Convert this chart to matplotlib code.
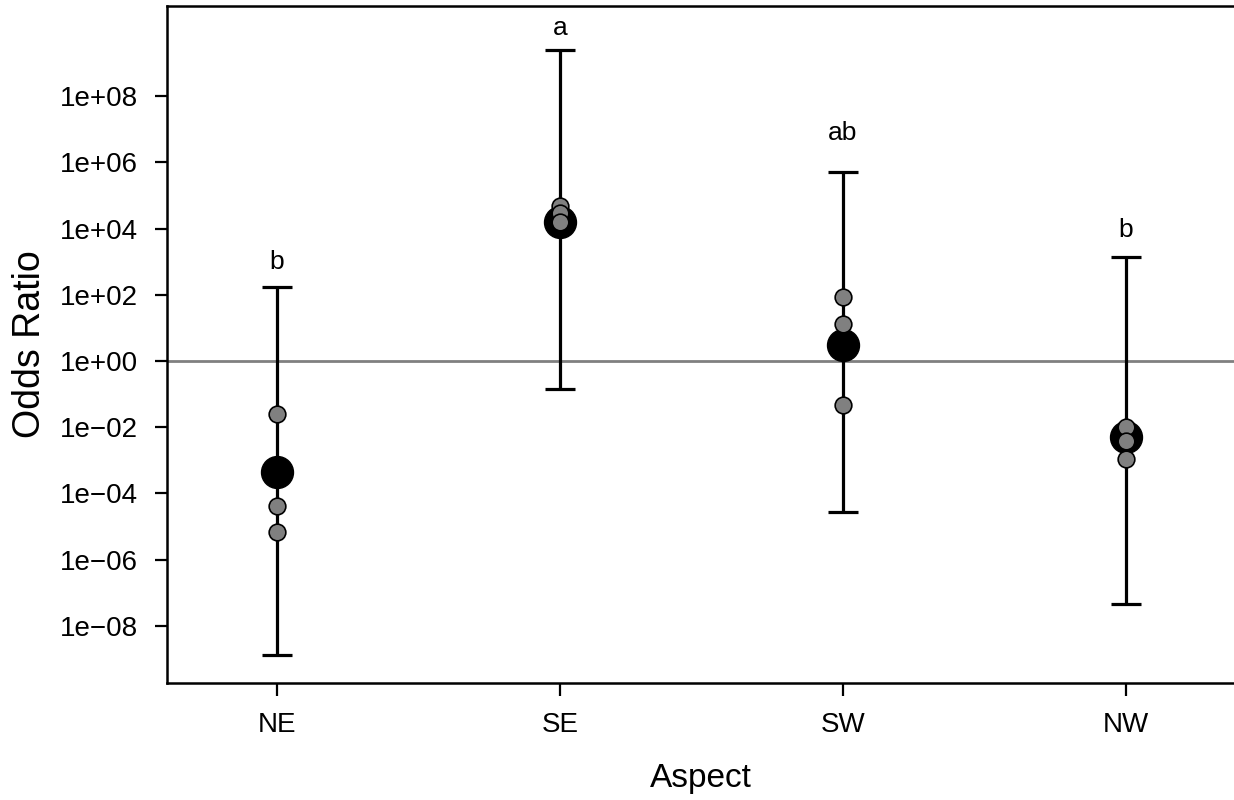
import numpy as np
import matplotlib
matplotlib.use("Agg")
import matplotlib.pyplot as plt

plt.rcParams['font.family'] = ['Liberation Sans', 'DejaVu Sans']

aspects = ['NE', 'SE', 'SW', 'NW']
# model estimates (log10 odds ratio) with 95% CI
est_log = [-3.34, 4.21, 0.48, -2.29]
lower_log = [-8.89, -0.84, -4.57, -7.35]
upper_log = [2.24, 9.40, 5.72, 3.15]
# individual model runs (log10 odds ratio)
runs_log = [
    [-1.61, -4.38, -5.16],
    [4.69, 4.47, 4.21],
    [1.94, 1.11, -1.33],
    [-2.01, -2.41, -2.97],
]
letters = ['b', 'a', 'ab', 'b']
letter_log = [2.78, 9.85, 6.68, 3.76]

tick_exp = [8, 6, 4, 2, 0, -2, -4, -6, -8]
tick_labels = ['1e+08', '1e+06', '1e+04', '1e+02', '1e+00',
               '1e\u221202', '1e\u221204', '1e\u221206', '1e\u221208']

fig = plt.figure(figsize=(12.34, 8), dpi=100)
ax = fig.add_axes([166.7 / 1234, 117 / 800, (1236 - 166.7) / 1234, (683 - 6) / 800])

x = np.arange(1, len(aspects) + 1)
est = 10.0 ** np.array(est_log)
lo = 10.0 ** np.array(lower_log)
hi = 10.0 ** np.array(upper_log)

ax.axhline(1, color='#808080', lw=2, zorder=1)
ax.errorbar(x, est, yerr=[est - lo, hi - est], fmt='none', ecolor='black',
            elinewidth=2.3, capsize=11, capthick=2.3, zorder=2)
ax.plot(x, est, 'o', ms=23, color='black', zorder=3)
for xi, vals in zip(x, runs_log):
    ax.plot([xi] * len(vals), 10.0 ** np.array(vals), 'o', ms=12,
            mfc='#808080', mec='black', mew=1.2, zorder=4)

for xi, lab, ly in zip(x, letters, letter_log):
    ax.text(xi, 10.0 ** ly, lab, ha='center', va='baseline', fontsize=19)

ax.set_yscale('log')
ax.set_ylim(10.0 ** -9.73, 10.0 ** 10.725)
ax.set_xlim(0.61, 4.39)
ax.set_yticks([10.0 ** e for e in tick_exp])
ax.set_yticklabels(tick_labels)
ax.yaxis.set_minor_locator(matplotlib.ticker.NullLocator())
ax.set_xticks(x)
ax.set_xticklabels(aspects)
ax.tick_params(axis='both', direction='out', length=9, width=1.6,
               labelsize=20, pad=12)

for side in ['left', 'bottom', 'top']:
    ax.spines[side].set_linewidth(1.8)
ax.spines['right'].set_visible(False)

ax.set_xlabel('Aspect', fontsize=24, labelpad=18)
ax.set_ylabel('Odds Ratio', fontsize=27, labelpad=8)

fig.savefig('out.png', dpi=100)
